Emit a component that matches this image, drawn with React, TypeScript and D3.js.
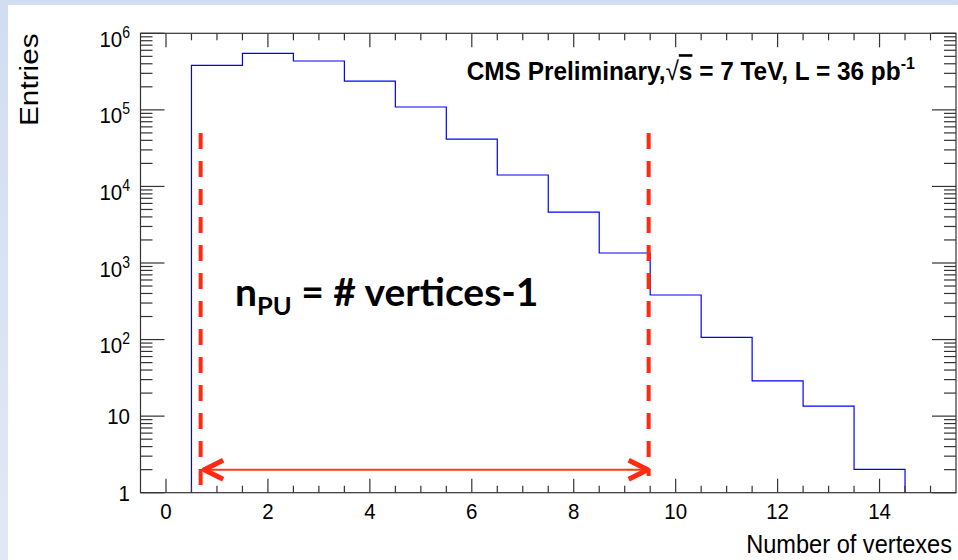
import React from "react";
import * as d3 from "d3";

const W = 958;
const H = 560;

// Vertex multiplicity histogram: bin centres and entries per bin
const binCenters = [1, 2, 3, 4, 5, 6, 7, 8, 9, 10, 11, 12, 13, 14];
const binEntries = [382000, 548000, 435000, 238000, 109000, 41600, 14100, 4630, 1350, 382, 107, 28.8, 13.5, 2.02];

// Axis ticks
const xMajorTicks = [0, 2, 4, 6, 8, 10, 12, 14];
const yDecadeExponents = [0, 1, 2, 3, 4, 5, 6];

// Pile-up range annotation (in axis units)
const puMarkerX = [0.68, 9.47];
const puMarkerTop = 5e4;
const puMarkerBottom = [1.26, 1.65];
const puArrowX = [0.7, 9.5];
const puArrowLevel = 2.0;

const x = d3.scaleLinear().domain([-0.5, 15.5]).range([140.5, 956]);
const y = d3.scaleLog().domain([1, 1e6]).range([492.7, 33.3]);

const AXIS = "#333";
const FONT = "'Liberation Sans', Arial, Helvetica, sans-serif";
const RED = "#ff2a12";

function histPath(): string {
  const pts: [number, number][] = [[x(binCenters[0] - 0.5), y(1)]];
  binCenters.forEach((c, i) => {
    pts.push([x(c - 0.5), y(binEntries[i])]);
    pts.push([x(c + 0.5), y(binEntries[i])]);
  });
  pts.push([x(binCenters[binCenters.length - 1] + 0.5), y(1)]);
  return d3.line()(pts) || "";
}

export default function App() {
  const [x0, x1] = x.range();
  const [yb, yt] = y.range();

  const xMinor = d3.range(0.5, 15.01, 0.5).filter((v) => !xMajorTicks.includes(v));
  const yMinor: number[] = [];
  for (let e = 0; e < 6; e++) for (let m = 2; m <= 9; m++) yMinor.push(m * Math.pow(10, e));

  const ay = y(puArrowLevel);
  const tipL = x(puArrowX[0]) + 2.5;
  const tipR = x(puArrowX[1]) - 2.5;

  return (
    <svg width={W} height={H} style={{ position: "absolute", left: 0, top: 0 }} fontFamily={FONT}>
      <defs>
        <linearGradient id="edge" x1="0" y1="0" x2="0" y2="1">
          <stop offset="0" stopColor="#d2ddf1" />
          <stop offset="1" stopColor="#e1e8f5" />
        </linearGradient>
      </defs>
      <rect x={0} y={0} width={W} height={H} fill="url(#edge)" />
      <rect x={8} y={5} width={W - 8} height={H - 5} fill="#fff" />

      {/* histogram */}
      <path d={histPath()} fill="none" stroke="#0000ff" strokeWidth={1.2} />

      {/* frame */}
      <rect x={x0} y={yt} width={x1 - x0} height={yb - yt} fill="none" stroke={AXIS} strokeWidth={1.2} />

      {/* x ticks, bottom and top */}
      {xMajorTicks.map((v) => (
        <g key={"xM" + v} stroke={AXIS} strokeWidth={1.2}>
          <line x1={x(v)} x2={x(v)} y1={yb} y2={yb - 14} />
          <line x1={x(v)} x2={x(v)} y1={yt} y2={yt + 14} />
        </g>
      ))}
      {xMinor.map((v) => (
        <g key={"xm" + v} stroke={AXIS} strokeWidth={1.2}>
          <line x1={x(v)} x2={x(v)} y1={yb} y2={yb - 7} />
          <line x1={x(v)} x2={x(v)} y1={yt} y2={yt + 7} />
        </g>
      ))}

      {/* y ticks, left and right */}
      {yDecadeExponents.map((e) => {
        const yy = y(Math.pow(10, e));
        return (
          <g key={"yM" + e} stroke={AXIS} strokeWidth={1.2}>
            <line x1={x0} x2={x0 + 24} y1={yy} y2={yy} />
            <line x1={x1} x2={x1 - 24} y1={yy} y2={yy} />
          </g>
        );
      })}
      {yMinor.map((v) => (
        <g key={"ym" + v} stroke={AXIS} strokeWidth={1.2}>
          <line x1={x0} x2={x0 + 12} y1={y(v)} y2={y(v)} />
          <line x1={x1} x2={x1 - 12} y1={y(v)} y2={y(v)} />
        </g>
      ))}

      {/* x tick labels */}
      {xMajorTicks.map((v) => (
        <g key={"xl" + v} transform={`translate(${x(v)},519) scale(1,1.12)`}>
          <text textAnchor="middle" fontSize={20.5} fill="#000">{v}</text>
        </g>
      ))}

      {/* y tick labels */}
      {yDecadeExponents.map((e) => {
        const yy = y(Math.pow(10, e));
        if (e <= 1) {
          return (
            <g key={"yl" + e} transform={`translate(130,${yy + 8.3}) scale(1,1.12)`}>
              <text textAnchor="end" fontSize={20.5} fill="#000">{e === 0 ? "1" : "10"}</text>
            </g>
          );
        }
        return (
          <g key={"yl" + e} transform={`translate(130,${yy + 13.5}) scale(1,1.12)`}>
            <text textAnchor="end" fontSize={20.5} fill="#000">
              10
              <tspan fontSize={14} dy={-8}>{e}</tspan>
            </text>
          </g>
        );
      })}

      {/* axis titles */}
      <g transform="translate(952,553) scale(1,1.08)">
        <text textAnchor="end" fontSize={23.6} fill="#000">Number of vertexes</text>
      </g>
      <g transform="translate(38.3,126) rotate(-90) scale(1.19,1)">
        <text textAnchor="start" fontSize={25} fill="#000">Entries</text>
      </g>

      {/* experiment label */}
      <g transform="translate(466.7,80) scale(1,1.07)">
        <text fontSize={24.4} fontWeight="bold" fill="#000">
          CMS Preliminary,
          <tspan fontWeight="normal">√</tspan>
          <tspan style={{ textDecoration: "overline" }}>s</tspan>
          {" = 7 TeV, L = 36 pb"}
          <tspan fontSize={16} dy={-10}>-1</tspan>
        </text>
      </g>

      {/* pile-up range markers */}
      {puMarkerX.map((v, i) => (
        <line
          key={"pu" + i}
          x1={x(v)}
          x2={x(v)}
          y1={y(puMarkerTop)}
          y2={y(puMarkerBottom[i])}
          stroke={RED}
          strokeWidth={4}
          strokeDasharray="16 12"
        />
      ))}
      <line x1={tipL + 2} x2={tipR - 2} y1={ay} y2={ay} stroke="#ff3a1c" strokeWidth={2} />
      <polyline
        points={`${tipL + 19},${ay - 9.5} ${tipL},${ay} ${tipL + 19},${ay + 9.5}`}
        fill="none"
        stroke={RED}
        strokeWidth={5}
        strokeLinejoin="round"
      />
      <polyline
        points={`${tipR - 19},${ay - 9.5} ${tipR},${ay} ${tipR - 19},${ay + 9.5}`}
        fill="none"
        stroke={RED}
        strokeWidth={5}
        strokeLinejoin="round"
      />

      {/* definition label */}
      <text x={235} y={306} fontFamily="Lato, 'Open Sans', sans-serif" fontWeight="bold" fontSize={39} fill="#000">
        n
        <tspan fontSize={25.5} dy={9}>PU</tspan>
        <tspan dy={-9}>{" = # vertices-1"}</tspan>
      </text>
    </svg>
  );
}
